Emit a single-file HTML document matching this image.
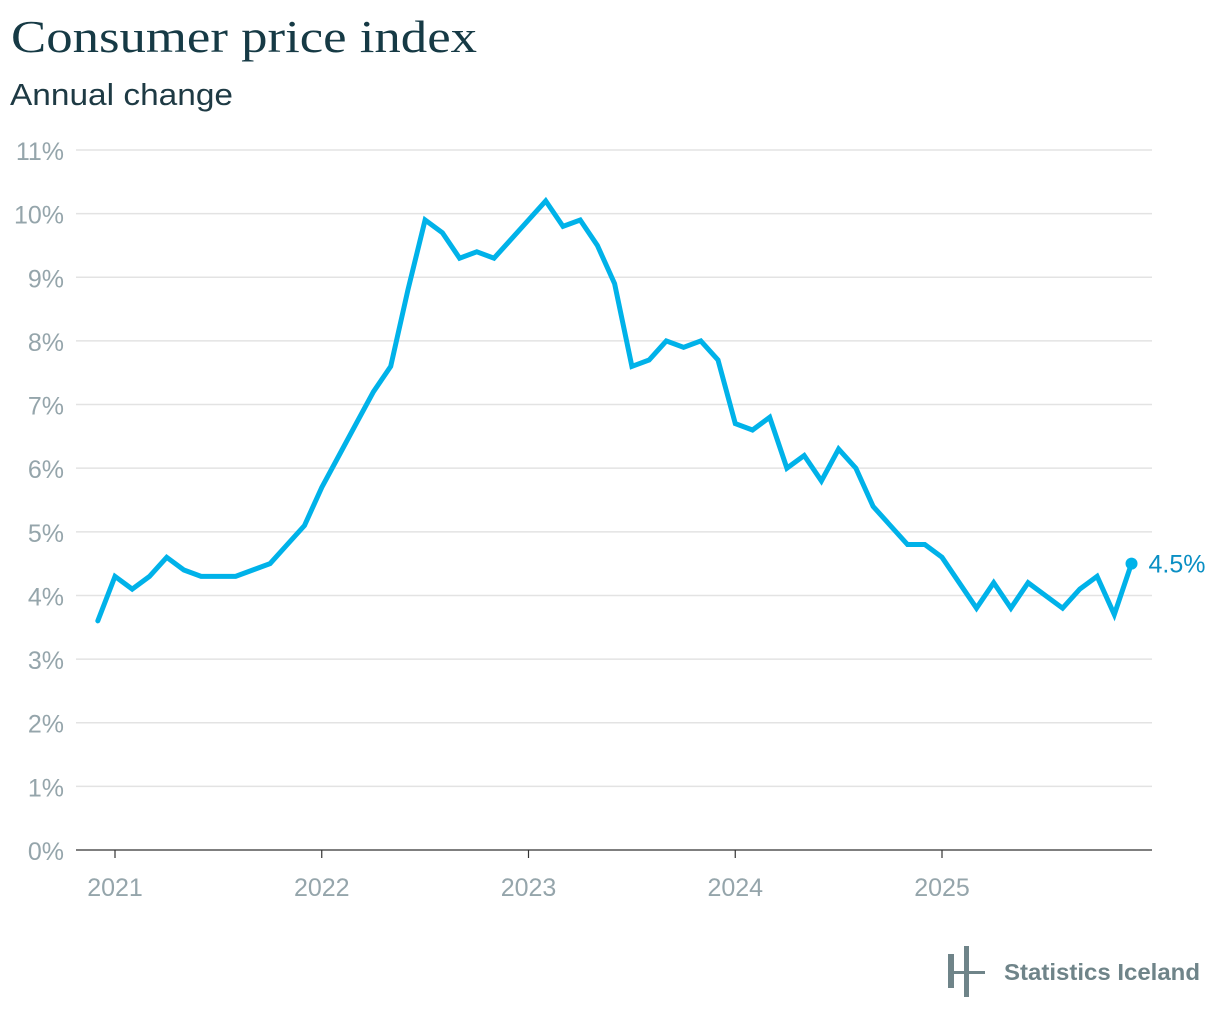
<!DOCTYPE html>
<html><head><meta charset="utf-8"><style>
body{margin:0;background:#fff;width:1220px;height:1022px;overflow:hidden}
svg{display:block}
</style></head><body>
<svg id="chart" width="1220" height="1022">
<text x="11" y="52" font-family="Liberation Serif, serif" font-size="46" fill="#163a45" textLength="466" lengthAdjust="spacingAndGlyphs">Consumer price index</text>
<text x="10" y="105" font-family="Liberation Sans, sans-serif" font-size="31" fill="#1e3a44" textLength="223" lengthAdjust="spacingAndGlyphs">Annual change</text>
<g id="grid"></g><g id="yt"></g><g id="xt"></g><g id="series"></g>
<g>
<rect x="948" y="954" width="6" height="34" fill="#6f8489"/>
<rect x="964" y="946" width="5" height="51" fill="#6f8489"/>
<rect x="948" y="971" width="37" height="3" fill="#6f8489"/>
<text x="1004" y="980" font-family="Liberation Sans, sans-serif" font-size="23" font-weight="bold" fill="#6f8489" textLength="196" lengthAdjust="spacingAndGlyphs">Statistics Iceland</text>
</g>
</svg>
<script>
const yTicks=[0,1,2,3,4,5,6,7,8,9,10,11];
const yearLabels=["2021","2022","2023","2024","2025"];
const startYear=2020, startMonth=11; // Dec 2020 (0-based month)
const values=[3.6,4.3,4.1,4.3,4.6,4.4,4.3,4.3,4.3,4.4,4.5,4.8,5.1,5.7,6.2,6.7,7.2,7.6,8.8,9.9,9.7,9.3,9.4,9.3,9.6,9.9,10.2,9.8,9.9,9.5,8.9,7.6,7.7,8.0,7.9,8.0,7.7,6.7,6.6,6.8,6.0,6.2,5.8,6.3,6.0,5.4,5.1,4.8,4.8,4.6,4.2,3.8,4.2,3.8,4.2,4.0,3.8,4.1,4.3,3.7,4.5];
const NS="http://www.w3.org/2000/svg";
const y=v=>850-v*(700/11);
const x=m=>115+(m-12*2021)*(827/48); // m = absolute month index
function mk(t,a,p){const e=document.createElementNS(NS,t);for(const k in a)e.setAttribute(k,a[k]);document.getElementById(p).appendChild(e);return e;}
yTicks.forEach(v=>{
 const l=mk('line',{x1:76,x2:1152,y1:y(v),y2:y(v),stroke:v===0?'#333':'#e3e3e3','stroke-width':v===0?1.2:1.5},'grid');
 
 
 const t=mk('text',{x:64,y:y(v)+10,'text-anchor':'end','font-family':'Liberation Sans, sans-serif','font-size':25,fill:'#95a5ab'},'yt');
 t.textContent=v+'%';
 
 
});
yearLabels.forEach(s=>{
 const xx=x(12*+s);
 const tk=mk('line',{x1:xx,x2:xx,y1:850,y2:858,stroke:'#333','stroke-width':1.2},'xt');
 
 
 const t=mk('text',{x:xx,y:896,'text-anchor':'middle','font-family':'Liberation Sans, sans-serif','font-size':25,fill:'#95a5ab'},'xt');
 t.textContent=s;
 
 
});
const m0=startYear*12+startMonth;
const pts=values.map((v,i)=>x(m0+i).toFixed(1)+','+y(v).toFixed(1)).join(' ');
const pl=mk('polyline',{points:pts,fill:'none',stroke:'#00b2e9','stroke-width':5,'stroke-linejoin':'miter','stroke-linecap':'round'},'series');


const li=values.length-1, lx=x(m0+li), ly=y(values[li]);
const c=mk('circle',{cx:lx,cy:ly,r:6,fill:'#00b2e9'},'series');


const lt=mk('text',{x:lx+17,y:ly+9,'font-family':'Liberation Sans, sans-serif','font-size':25,fill:'#0a8fc4'},'series');
lt.textContent=values[li]+'%';


</script>
</body></html>
